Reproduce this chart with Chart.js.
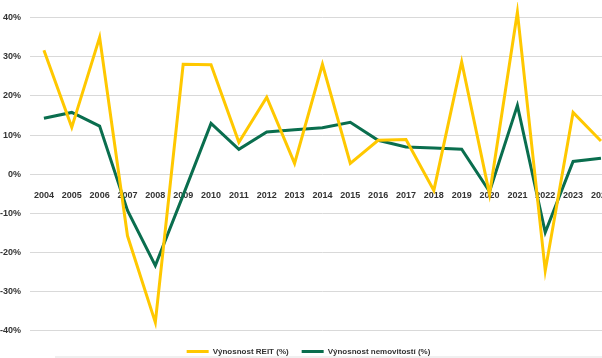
<!DOCTYPE html>
<html>
<head>
<meta charset="utf-8">
<script src="https://cdn.jsdelivr.net/npm/chart.js@4"></script>
<style>
  html, body { margin: 0; padding: 0; background: #fff; overflow: hidden; }
  #wrap { position: relative; width: 619px; height: 358px; }
  #strip { position: absolute; left: 55px; top: 356px; width: 560px; height: 2px; background: #f0f0f0; }
</style>
</head>
<body>
<div id="wrap">
  <canvas id="chart" width="619" height="358"></canvas>
  <div id="strip"></div>
</div>
<script>
/* ---------- DATA ---------- */
const years = ['2004', '2005', '2006', '2007', '2008', '2009', '2010', '2011', '2012', '2013', '2014',
  '2015', '2016', '2017', '2018', '2019', '2020', '2021', '2022', '2023', '2024'];

const reitReturns = [31.7, 12.0, 35.0, -15.7, -37.8, 28.1, 28.0, 8.2, 19.7, 2.8, 28.1,
  2.8, 8.7, 8.9, -4.1, 28.7, -5.1, 41.4, -24.6, 15.8, 8.5];

const propertyReturns = [14.3, 15.8, 12.3, -9.2, -23.3, -5.3, 13.0, 6.4, 10.8, 11.4, 11.9,
  13.3, 8.7, 7.0, 6.7, 6.4, -4.4, 17.6, -14.8, 3.3, 4.1];

const yTicks = [-40, -30, -20, -10, 0, 10, 20, 30, 40];

/* ---------- CHART ---------- */
const textColor = '#333333';
const tickFont = { family: 'Liberation Sans', size: 9, weight: 'bold' };
const legendFont = { family: 'Liberation Sans', size: 8, weight: 'bold' };

new Chart(document.getElementById('chart'), {
  type: 'line',
  data: {
    labels: years,
    datasets: [
      {
        label: 'Výnosnost REIT (%)',
        data: reitReturns,
        borderColor: '#FFC800',
        backgroundColor: '#FFC800',
        borderWidth: 3,
        pointRadius: 0,
        tension: 0
      },
      {
        label: 'Výnosnost nemovitostí (%)',
        data: propertyReturns,
        borderColor: '#0A6E4E',
        backgroundColor: '#0A6E4E',
        borderWidth: 3,
        pointRadius: 0,
        tension: 0
      }
    ]
  },
  options: {
    responsive: false,
    animation: false,
    // negative bottom padding pulls the legend closer to the canvas edge
    layout: { padding: { top: 2, right: 2, left: 0, bottom: -7.5 } },
    plugins: {
      tooltip: { enabled: false },
      legend: {
        position: 'bottom',
        labels: {
          color: textColor,
          font: legendFont,
          usePointStyle: true,
          pointStyle: 'line',
          pointStyleWidth: 22,
          padding: 13
        }
      }
    },
    scales: {
      x: {
        position: { y: 0 },
        offset: true,
        afterFit: scale => { scale.height = 0; },
        grid: { display: false },
        border: { display: false },
        ticks: { color: textColor, font: tickFont, padding: 8, maxRotation: 0, autoSkip: false }
      },
      y: {
        min: -40.9,
        max: 44,
        afterBuildTicks: scale => { scale.ticks = yTicks.map(v => ({ value: v })); },
        afterFit: scale => {
          scale.width = 30;
          scale.paddingTop = 0;
          scale.paddingBottom = 0;
        },
        grid: { color: '#d9d9d9', lineWidth: 1, drawTicks: false },
        border: { display: false },
        ticks: { color: textColor, font: tickFont, padding: 9, callback: v => v + '%' }
      }
    }
  }
});
</script>
</body>
</html>
